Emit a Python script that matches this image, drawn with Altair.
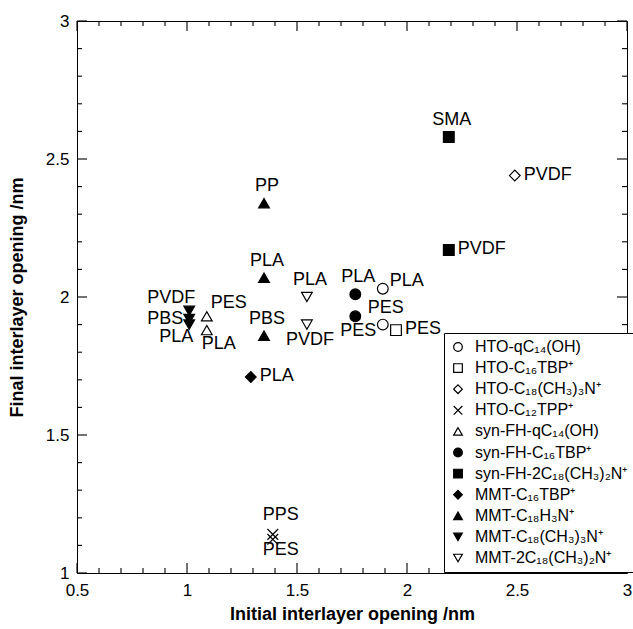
import altair as alt
import pandas as pd

# ---------------- data ----------------
series_names = [
    "HTO-qC₁₄(OH)", "HTO-C₁₆TBP⁺", "HTO-C₁₈(CH₃)₃N⁺", "HTO-C₁₂TPP⁺",
    "syn-FH-qC₁₄(OH)", "syn-FH-C₁₆TBP⁺", "syn-FH-2C₁₈(CH₃)₂N⁺",
    "MMT-C₁₆TBP⁺", "MMT-C₁₈H₃N⁺", "MMT-C₁₈(CH₃)₃N⁺", "MMT-2C₁₈(CH₃)₂N⁺",
]

point_series = [0, 0, 1, 2, 3, 3, 4, 4, 5, 5, 6, 6, 7, 8, 8, 8, 9, 9, 9, 10, 10]
point_x = [1.89, 1.89, 1.95, 2.49, 1.39, 1.39, 1.09, 1.09, 1.765, 1.765, 2.19, 2.19,
           1.29, 1.35, 1.35, 1.35, 1.01, 1.01, 1.01, 1.545, 1.545]
point_y = [2.03, 1.90, 1.88, 2.44, 1.14, 1.122, 1.93, 1.88, 2.01, 1.93, 2.58, 2.17,
           1.71, 2.34, 2.07, 1.86, 1.95, 1.92, 1.90, 2.00, 1.90]
point_label = ["PLA", "PES", "PES", "PVDF", "PPS", "PES", "PES", "PLA", "PLA", "PES",
               "SMA", "PVDF", "PLA", "PP", "PLA", "PBS", "PVDF", "PBS", "PLA", "PLA", "PVDF"]
label_place = ["right-up", "above", "right", "right", "above-x", "below-x", "upper-right",
               "lower-right", "above", "below", "above", "right", "right", "above", "above",
               "above", "upper-left", "left", "lower-left", "above", "below"]

x_major = [0.5, 1.0, 1.5, 2.0, 2.5, 3.0]
x_minor = [0.6, 0.7, 0.8, 0.9, 1.1, 1.2, 1.3, 1.4, 1.6, 1.7, 1.8, 1.9,
           2.1, 2.2, 2.3, 2.4, 2.6, 2.7, 2.8, 2.9]
y_major = [1.0, 1.5, 2.0, 2.5, 3.0]
y_minor = [1.1, 1.2, 1.3, 1.4, 1.6, 1.7, 1.8, 1.9, 2.1, 2.2, 2.3, 2.4,
           2.6, 2.7, 2.8, 2.9]

X_TITLE = "Initial interlayer opening /nm"
Y_TITLE = "Final interlayer opening /nm"
X_DOMAIN = [0.5, 3.0]
Y_DOMAIN = [1.0, 3.0]

# ---------------- styles ----------------
W, H = 550, 552
MAJOR_PX, MINOR_PX = 10, 5
CROSS = "M-1,-1L1,1M-1,1L1,-1"
series_shapes = ["circle", "square", "diamond", CROSS, "triangle-up", "circle", "square",
                 "diamond", "triangle-up", "triangle-down", "triangle-down"]
series_fill = ["white", "white", "white", "transparent", "white", "black", "black",
               "black", "black", "black", "white"]
series_stroke = ["black"] * len(series_names)

placements = {
    "above": dict(dx=3, dy=-17, align="center"),
    "below": dict(dx=3, dy=15, align="center"),
    "above-x": dict(dx=8, dy=-19, align="center"),
    "below-x": dict(dx=8, dy=11, align="center"),
    "right": dict(dx=9, dy=-1, align="left"),
    "right-up": dict(dx=7, dy=-8, align="left"),
    "left": dict(dx=-6, dy=0, align="right"),
    "upper-left": dict(dx=6, dy=-13, align="right"),
    "lower-left": dict(dx=4, dy=12, align="right"),
    "upper-right": dict(dx=4, dy=-13, align="left"),
    "lower-right": dict(dx=-5, dy=14, align="left"),
}

FONT = "Liberation Sans"

df = pd.DataFrame({
    "series": [series_names[i] for i in point_series],
    "x": point_x,
    "y": point_y,
    "label": point_label,
    "place": label_place,
})

x_scale = alt.Scale(domain=X_DOMAIN, nice=False, zero=False)
y_scale = alt.Scale(domain=Y_DOMAIN, nice=False, zero=False)

axis_style = dict(grid=False, domain=False, ticks=False, labelFlush=False, labelOverlap=False,
                  labelFont=FONT, labelFontSize=17, labelColor="black",
                  titleFont=FONT, titleFontSize=18, titleFontWeight="bold", titleColor="black",
                  format=".1~f")

x_axis = alt.Axis(orient="bottom", values=x_major, labelPadding=9,
                  titleY=46, titleBaseline="alphabetic", **axis_style)
y_axis = alt.Axis(orient="left", values=y_major, labelPadding=8,
                  titleX=-55, titleBaseline="alphabetic", **axis_style)


def X(field):
    return alt.X(field, scale=x_scale, axis=x_axis, title=X_TITLE)


def Y(field):
    return alt.Y(field, scale=y_scale, axis=y_axis, title=Y_TITLE)


legend = alt.Legend(
    title=None, orient="none", legendX=367, legendY=312,
    strokeColor="black", padding=6, fillColor="white",
    labelFont=FONT, labelFontSize=16, labelColor="black", labelLimit=400,
    symbolSize=75, rowPadding=5.1, labelOffset=9, symbolStrokeWidth=1.2,
)

base = alt.Chart(df)

points = base.mark_point(filled=False, size=115, opacity=1, strokeWidth=1.2).encode(
    x=X("x:Q"),
    y=Y("y:Q"),
    shape=alt.Shape("series:N", scale=alt.Scale(domain=series_names, range=series_shapes),
                    legend=legend, sort=series_names),
    fill=alt.Fill("series:N", scale=alt.Scale(domain=series_names, range=series_fill),
                  legend=legend, sort=series_names),
    stroke=alt.Stroke("series:N", scale=alt.Scale(domain=series_names, range=series_stroke),
                      legend=legend, sort=series_names),
)

x_per_px = (X_DOMAIN[1] - X_DOMAIN[0]) / W
y_per_px = (Y_DOMAIN[1] - Y_DOMAIN[0]) / H


def tick_layer(values, side, length_px):
    if side in ("bottom", "top"):
        start = Y_DOMAIN[0] if side == "bottom" else Y_DOMAIN[1]
        end = start + (length_px * y_per_px if side == "bottom" else -length_px * y_per_px)
    else:
        start = X_DOMAIN[0] if side == "left" else X_DOMAIN[1]
        end = start + (length_px * x_per_px if side == "left" else -length_px * x_per_px)
    d = pd.DataFrame({"v": values, "a": [start] * len(values), "b": [end] * len(values)})
    ch = alt.Chart(d).mark_rule(color="black", strokeWidth=1.1)
    if side in ("bottom", "top"):
        return ch.encode(x=X("v:Q"), y=Y("a:Q"), y2="b:Q")
    return ch.encode(y=Y("v:Q"), x=X("a:Q"), x2="b:Q")


ticks = []
for side in ("bottom", "top"):
    ticks.append(tick_layer(x_minor, side, MINOR_PX))
    ticks.append(tick_layer(x_major, side, MAJOR_PX))
for side in ("left", "right"):
    ticks.append(tick_layer(y_minor, side, MINOR_PX))
    ticks.append(tick_layer(y_major, side, MAJOR_PX))

label_layers = []
for name, p in placements.items():
    label_layers.append(
        base.transform_filter(alt.datum.place == name)
        .mark_text(font=FONT, fontSize=18, color="black", dx=p["dx"], dy=p["dy"],
                   align=p["align"], baseline="middle")
        .encode(x=X("x:Q"), y=Y("y:Q"), text="label:N")
    )

chart = (
    alt.layer(*ticks, *label_layers, points)
    .properties(
        width=W, height=H,
        autosize=alt.AutoSizeParams(type="none"),
        padding={"left": 77, "top": 21, "right": 6, "bottom": 56},
        background="white",
    )
    .configure_view(stroke="black", strokeWidth=1)
)

chart.save("out.html", embed_options={"renderer": "svg", "actions": False})
